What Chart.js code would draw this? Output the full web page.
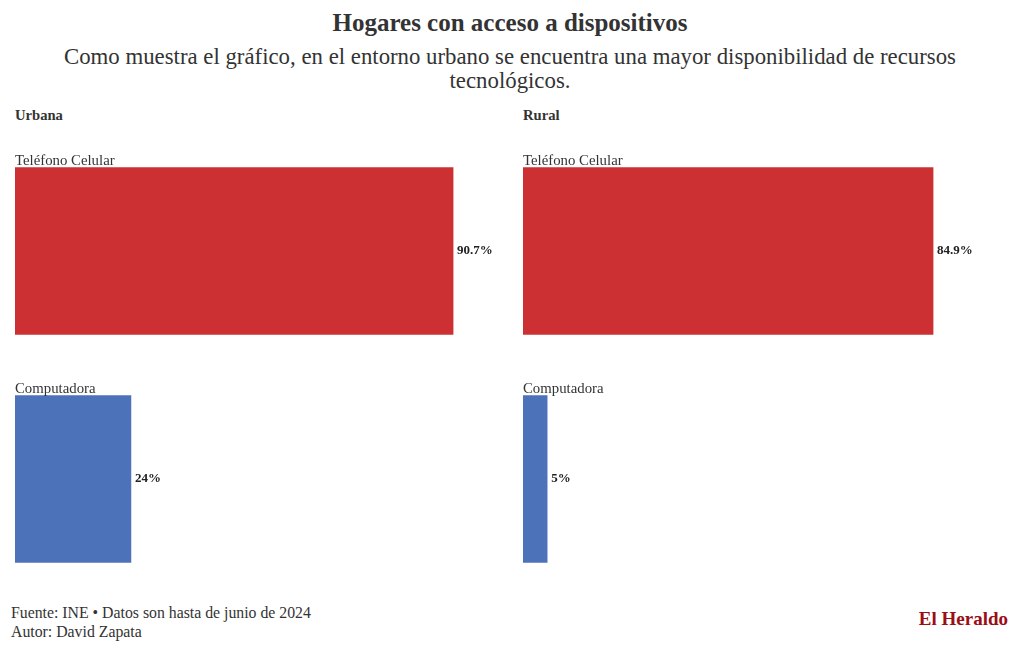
<!DOCTYPE html>
<html>
<head>
<meta charset="utf-8">
<script src="https://cdn.jsdelivr.net/npm/chart.js@4.4.1/dist/chart.umd.min.js"></script>
<style>
  html, body { margin:0; padding:0; background:#fff; }
  body { width:1020px; height:650px; position:relative; overflow:hidden; font-family:"Liberation Serif", serif; color:#333; }
  .abs { position:absolute; white-space:nowrap; }
  #title { left:0; width:1020px; top:9px; text-align:center; font-weight:bold; font-size:25px; color:#333; }
  #sub { left:40px; width:940px; top:45px; text-align:center; font-size:22.8px; line-height:24px; white-space:normal; color:#333; }
  .panel { font-weight:bold; font-size:14.6px; top:107px; color:#333; }
  .cv { position:absolute; }
  #foot { left:11px; top:603px; font-size:15.8px; line-height:19px; color:#333; }
  #brand { right:12px; top:608px; font-size:19px; font-weight:bold; color:#9a0e14; }
</style>
</head>
<body>
<div class="abs" id="title">Hogares con acceso a dispositivos</div>
<div class="abs" id="sub">Como muestra el gráfico, en el entorno urbano se encuentra una mayor disponibilidad de recursos tecnológicos.</div>
<div class="abs panel" style="left:15px;">Urbana</div>
<div class="abs panel" style="left:523px;">Rural</div>
<div class="cv" style="left:15px;top:137px;width:540px;height:456px;"><canvas id="c1"></canvas></div>
<div class="cv" style="left:523px;top:137px;width:497px;height:456px;"><canvas id="c2"></canvas></div>
<div class="abs" id="foot">Fuente: INE • Datos son hasta de junio de 2024<br>Autor: David Zapata</div>
<div class="abs" id="brand">El Heraldo</div>
<script>
const categories = ["Teléfono Celular", "Computadora"];
const urbanValues = [90.7, 24];
const ruralValues = [84.9, 5];
const valueLabelsUrban = ["90.7%", "24%"];
const valueLabelsRural = ["84.9%", "5%"];
const barColors = ["#cc3033", "#4c72ba"];

const labelPlugin = {
  id: 'barLabels',
  afterDatasetsDraw(chart, args, opts) {
    const ctx = chart.ctx;
    const meta = chart.getDatasetMeta(0);
    ctx.save();
    meta.data.forEach((bar, i) => {
      const h = bar.height;
      const top = bar.y - h / 2;
      ctx.font = '14.8px "Liberation Serif", serif';
      ctx.fillStyle = '#333';
      ctx.textBaseline = 'alphabetic';
      ctx.textAlign = 'left';
      ctx.fillText(categories[i], chart.chartArea.left, top - 3);
      ctx.font = 'bold 13px "Liberation Serif", serif';
      ctx.fillStyle = '#222';
      ctx.textBaseline = 'middle';
      ctx.fillText(opts.labels[i], bar.x + 4, bar.y);
    });
    ctx.restore();
  }
};

function makeChart(id, values, labels, padRight) {
  return new Chart(document.getElementById(id), {
    type: 'bar',
    data: {
      labels: categories,
      datasets: [{ data: values, backgroundColor: barColors, borderWidth: 0, barThickness: 167 }]
    },
    options: {
      indexAxis: 'y',
      responsive: true,
      maintainAspectRatio: false,
      animation: false,
      layout: { padding: { left: 0, right: padRight, top: 0, bottom: 0 } },
      scales: {
        x: { display: false, min: 0, max: 100 },
        y: { display: false }
      },
      plugins: {
        legend: { display: false },
        tooltip: { enabled: false },
        barLabels: { labels: labels }
      }
    },
    plugins: [labelPlugin]
  });
}
makeChart('c1', urbanValues, valueLabelsUrban, 57);
makeChart('c2', ruralValues, valueLabelsRural, 14);
</script>
</body>
</html>
